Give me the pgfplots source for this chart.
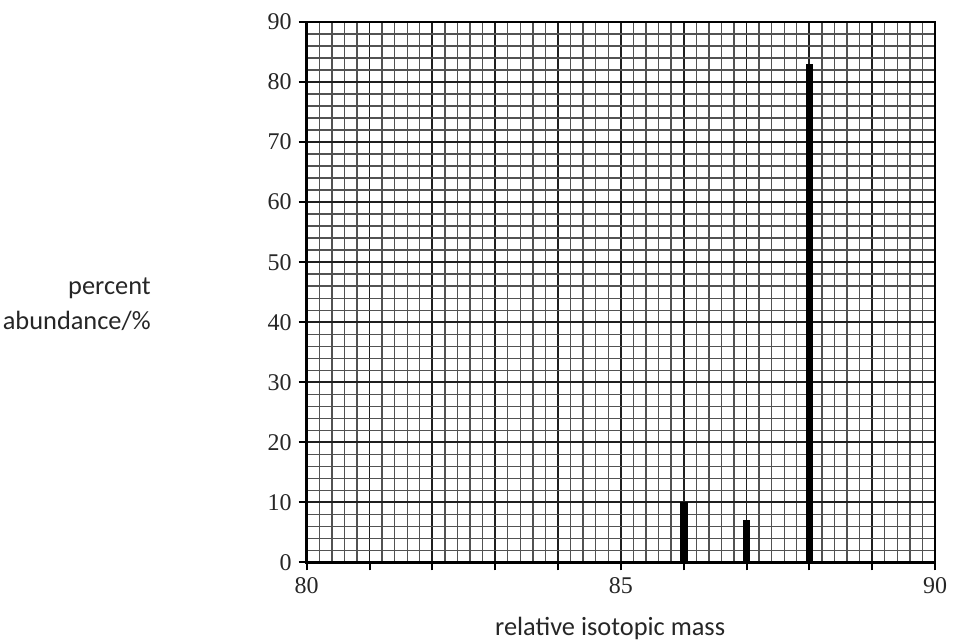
\documentclass[border=0pt]{standalone}
\usepackage{pgfplots}
\pgfplotsset{compat=1.18}
\usepackage{fontspec}
\setmainfont{Liberation Serif}
\newfontfamily\labelfont{Carlito}
\begin{document}
\begin{tikzpicture}
\begin{axis}[
  at={(0,0)}, anchor=south west,
  scale only axis,
  width=314.5pt, height=270.5pt,
  xmin=80, xmax=90, ymin=0, ymax=90,
  clip mode=individual,
  xtick={80,81,...,90},
  xticklabels={80,,,,,85,,,,,90},
  ytick={0,10,...,90},
  minor x tick num=4,
  minor y tick num=4,
  grid=both,
  major grid style={black!88, line width=0.9pt},
  minor grid style={black!68, line width=0.7pt},
  tick align=outside,
  tick pos=left,
  major tick length=4pt,
  minor tick length=0pt,
  tick style={black, line width=1pt},
  axis line style={black, line width=0.8pt},
  /pgf/number format/assume math mode=true,
  tick label style={font=\fontsize{12}{14}\selectfont, black!85},
  xticklabel style={yshift=0pt},
  yticklabel style={xshift=0pt},
]
\addplot[ybar, bar width=3.3pt, fill=black, draw=black] coordinates {(86,10) (87,7) (88,83)};
\draw[black, line width=1.5pt] (rel axis cs:0,1) -- (rel axis cs:0,0) -- (rel axis cs:1,0);
\node[anchor=east, align=right, font=\labelfont\fontsize{13.2}{17.5}\selectfont, text=black!85]
  at (rel axis cs:-0.237,0.477) {percent\\abundance/\%};
\node[anchor=center, font=\labelfont\fontsize{13.2}{16}\selectfont, text=black!85]
  at (rel axis cs:0.483,-0.122) {relative isotopic mass};
\end{axis}
\pgfresetboundingbox
\path[use as bounding box] (-153.5pt,-40.5pt) rectangle (324.5pt,281.5pt);
\end{tikzpicture}
\end{document}
